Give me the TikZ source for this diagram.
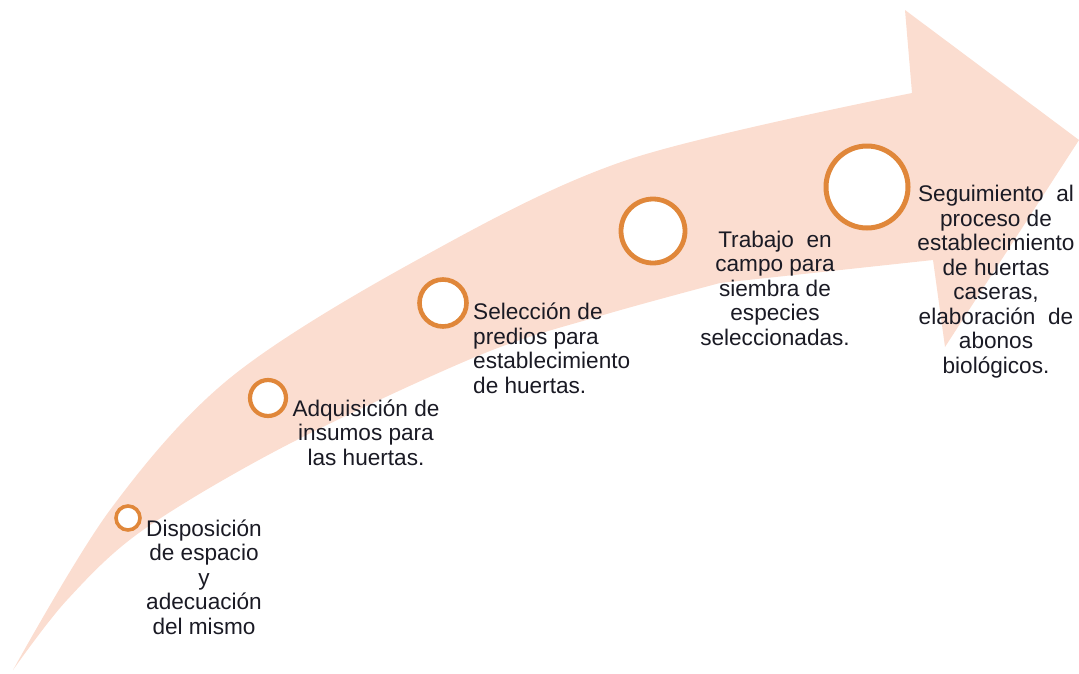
\documentclass[tikz,border=0pt]{standalone}
\usepackage{fontspec}
\setmainfont{Liberation Sans}
\definecolor{band}{RGB}{251,221,208}
\definecolor{ring}{RGB}{224,135,58}
\definecolor{ink}{RGB}{26,26,36}
\begin{document}
\begin{tikzpicture}[x=1pt,y=-1pt,
  step ring/.style={circle,draw=ring,fill=white,line width=#1},
  lbl/.style={font=\fontsize{22.6}{24.5}\selectfont,text=ink,inner sep=0pt,anchor=base},
]
\useasboundingbox (0,0) rectangle (1079,673);
\fill[band] plot[smooth,tension=0.55] coordinates {(13,670) (110,510) (230,378) (417,260) (627,160) (912,93)}
  -- (905,10) -- (1079,140) -- (945,347) -- (933,260)
  -- plot[smooth,tension=0.55] coordinates {(720,283) (600,316) (480,355) (287,445) (143,530) (67,600) (13,670)} -- cycle;

\node[step ring=3.6pt,minimum size=24pt] (c1) at (128,518) {};
\node[step ring=4.2pt,minimum size=36pt] (c2) at (268,398) {};
\node[step ring=4.6pt,minimum size=47pt] (c3) at (443,303) {};
\node[step ring=4.8pt,minimum size=64pt] (c4) at (653,231) {};
\node[step ring=5pt,minimum size=82pt] (c5) at (867,187) {};

\node[lbl,align=center] (t1) at (204,634) {Disposición\\de espacio\\y\\adecuación\\del mismo};
\node[lbl,align=center] (t2) at (366,465) {Adquisición de\\insumos para\\las huertas.};
\node[lbl,align=left,anchor=base west] (t3) at (473,393) {Selección de\\predios para\\establecimiento\\de huertas.};
\node[lbl,align=center] (t4) at (775,345) {Trabajo\ \ en\\campo para\\siembra de\\especies\\seleccionadas.};
\node[lbl,align=center] (t5) at (996,373) {Seguimiento\ \ al\\proceso de\\establecimiento\\de huertas\\caseras,\\elaboración\ \ de\\abonos\\biológicos.};
\end{tikzpicture}
\end{document}
